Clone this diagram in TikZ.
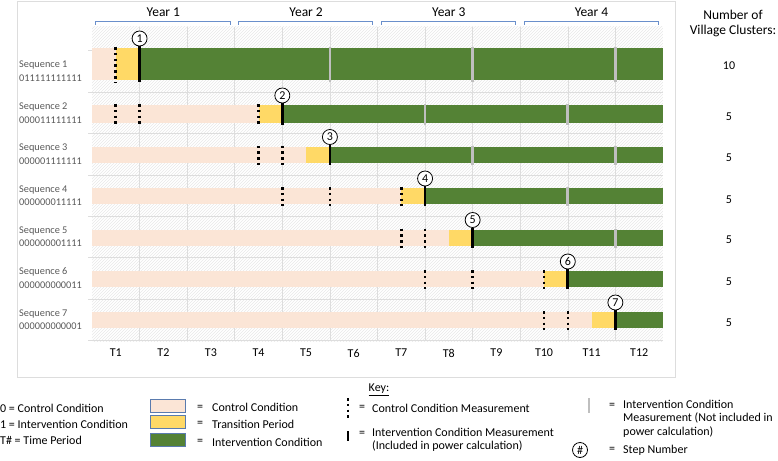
\documentclass[tikz,border=0pt]{standalone}
\usepackage{fontspec}
\setmainfont{Carlito}
\usetikzlibrary{patterns}
\definecolor{ctrlfill}{HTML}{FBE5D6}
\definecolor{transfill}{HTML}{FFD966}
\definecolor{intfill}{HTML}{548235}
\definecolor{msgray}{HTML}{BFBFBF}
\definecolor{gridgray}{HTML}{DDDDDD}
\definecolor{lblgray}{HTML}{595959}
\definecolor{brblue}{HTML}{6A8FCB}
\definecolor{swblue}{HTML}{5A7BAE}
\begin{document}
\begin{tikzpicture}[x=1pt,y=-1pt,
  every node/.style={font=\fontsize{12}{13.5}\selectfont,inner sep=0pt},
  big/.style={font=\fontsize{13.5}{15}\selectfont},
  seqlbl/.style={anchor=west,text=lblgray,font=\fontsize{10.3}{12}\selectfont},
  gridln/.style={draw=gridgray,line width=0.6pt},
  yearbr/.style={draw=brblue,line width=0.7pt},
  ctrlms/.style={line width=2.6pt,dash pattern=on 2.6pt off 3.2pt},
  intms/.style={line width=2.8pt},
  extms/.style={draw=msgray,line width=2.8pt},
  stepnum/.style={circle,draw,line width=0.8pt,fill=white,minimum size=15pt,
    font=\fontsize{12}{12}\selectfont},
  swatch/.style={draw=swblue,line width=0.8pt},
  keytxt/.style={anchor=west,align=left}]
  \useasboundingbox (0,0) rectangle (778,460);
  \draw[gridgray] (17,1) rectangle (675,377);
  % chart, one unit of x = one time period
  \begin{scope}[shift={(92,0)},x=47.58pt]
    \fill[pattern=north east lines,pattern color=black!9] (0,27) rectangle (12,341);
    \foreach \k in {1,...,11}
      \draw[gridln] (\k,27) -- (\k,341);
    \foreach \yy in {50.6,92,133.4,174.8,216.2,257.6,299,340.4}
      \draw[gridln] (-0.08,\yy) -- (12,\yy);
    \foreach \j in {1,...,4} {
      \draw[yearbr] ({3*\j-2.92},25) -- ({3*\j-2.92},21) -- ({3*\j-0.1},21) -- ({3*\j-0.1},25);
      \node[big] (year\j) at ({3*\j-1.5},12) {Year \j};
    }
    \foreach \t in {1,...,12}
      \node (t\t) at (\t-0.5,353) {T\t};
    \foreach \yc/\hh/\tr/\st/\cms/\ims [count=\i] in {
        64/16/0.5/1/{0.5}/{5,8,11},
        114/9/3.5/4/{0.5,1,3.5}/{7,10},
        154.5/8/4.5/5/{3.5,4}/{8,11},
        196/8/6.5/7/{4,5,6.5}/{10},
        237.5/8/7.5/8/{6.5,7}/{11},
        279/8/9.5/10/{7,8,9.5}/{},
        320/8/10.5/11/{9.5,10}/{}} {
      \fill[ctrlfill] (0,{\yc-\hh}) rectangle (12,{\yc+\hh});
      \fill[transfill] (\tr,{\yc-\hh}) rectangle (\st,{\yc+\hh});
      \fill[intfill] (\st,{\yc-\hh}) rectangle (12,{\yc+\hh});
      \foreach \g in \ims
        \draw[extms] (\g,{\yc-\hh-1}) -- (\g,{\yc+\hh+2});
      \foreach \c in \cms
        \draw[ctrlms] (\c,{\yc-\hh-1}) -- (\c,{\yc+\hh+2});
      \draw[intms] (\st,{\yc-\hh-2}) -- (\st,{\yc+\hh+2});
      \node[stepnum] (step\i) at (\st,{\yc-\hh-9.5}) {\i};
    }
  \end{scope}
  % row labels and cluster counts
  \node[big] (ncl1) at (733,15) {Number of};
  \node[big] (ncl2) at (733,31) {Village Clusters:};
  \foreach \ly/\code/\ny/\nc [count=\i] in {
      71.5/011111111111/66/10, 113.5/000011111111/117/5,
      154.5/000001111111/158/5, 196/000000011111/200/5,
      237/000000001111/240/5, 278.5/000000000011/282/5,
      320/000000000001/323/5} {
    \node[seqlbl] (seq\i) at (19,\ly-6.5) {Sequence \i};
    \node[seqlbl] (code\i) at (19,\ly+6.5) {\code};
    \node (num\i) at (729,\ny) {\nc};
  }
  % key
  \node[keytxt] (def0) at (0,408) {0 = Control Condition};
  \node[keytxt] (def1) at (0,424) {1 = Intervention Condition};
  \node[keytxt] (defT) at (0,440) {T\# = Time Period};
  \foreach \sy/\sc/\st [count=\i] in {405.5/ctrlfill/Control Condition,
      422/transfill/Transition Period,440/intfill/Intervention Condition} {
    \filldraw[swatch,fill=\sc] (150,\sy-6.5) rectangle (185,\sy+6.5);
    \node (eqa\i) at (200,\sy+2) {=};
    \node[keytxt] (swt\i) at (212,\sy+2) {\st};
  }
  \node (key) at (379,390) {\underline{Key:}};
  \draw[ctrlms] (348,398) -- (348,418);
  \node (eqb1) at (362,408) {=};
  \node[keytxt] (kcm) at (372,408) {Control Condition Measurement};
  \draw[intms] (348,431) -- (348,441);
  \node (eqb2) at (362,434) {=};
  \node[keytxt,anchor=north west] (kim) at (372,427.5) {Intervention Condition Measurement\\(Included in power calculation)};
  \draw[extms] (589,398) -- (589,413);
  \node (eqc1) at (612,406) {=};
  \node[keytxt,anchor=north west] (kxm) at (623,399.5) {Intervention Condition\\Measurement (Not included in\\power calculation)};
  \node[stepnum] (stepkey) at (580,450) {\#};
  \node (eqc2) at (612,450) {=};
  \node[keytxt] (ksn) at (623,450) {Step Number};
\end{tikzpicture}
\end{document}
